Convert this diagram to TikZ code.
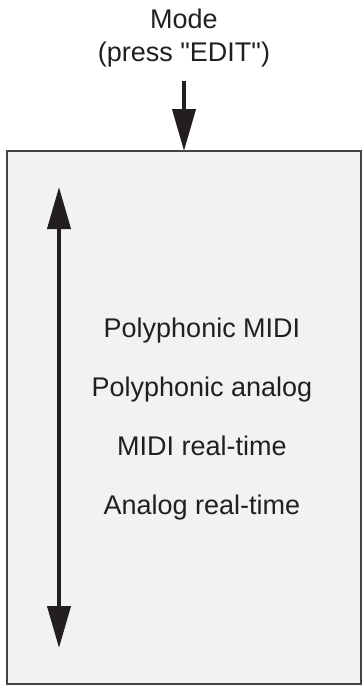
\documentclass[tikz,border=0pt]{standalone}
\usepackage{fontspec}
\setmainfont{Liberation Sans}
\usepackage{tikz}
\usetikzlibrary{arrows.meta,positioning}
\definecolor{inkdark}{HTML}{231F20}
\definecolor{panelgray}{HTML}{F1F2F4}
\tikzset{
  modetext/.style={font=\fontsize{27}{32}\selectfont,text=inkdark,inner sep=0pt,anchor=base},
  modebox/.style={draw=inkdark!85,fill=panelgray,line width=1.8pt,minimum width=354pt,minimum height=533pt,inner sep=0pt,outer sep=0pt},
  bigtip/.tip={Triangle[length=42pt,width=23pt]},
  bigarrow/.style={draw=inkdark,line width=4pt,-bigtip}
}
\begin{document}
\begin{tikzpicture}[x=1pt,y=-1pt,line join=miter]
\path[use as bounding box] (0,0) rectangle (362,686);
% input
\node[modetext] (mode) at (184,28) {Mode};
\node[modetext] (press) at (184,61) {(press \textquotedbl EDIT\textquotedbl)};
\coordinate (feed) at (184,81);
% panel
\node[modebox] (panel) at (184,417.5) {};
\draw[bigarrow] (feed) -- (panel.north);
% scroll arrow
\coordinate (scrolltop) at (59,187);
\coordinate (scrollbot) at (59,648);
\draw[bigarrow,bigtip-bigtip] (scrolltop) -- (scrollbot);
% list of modes
\node[modetext] (polymidi) at (202,337) {Polyphonic MIDI};
\node[modetext] (polyanalog) at (202,396) {Polyphonic analog};
\node[modetext] (midirt) at (202,455) {MIDI real-time};
\node[modetext] (analogrt) at (202,514) {Analog real-time};
\end{tikzpicture}
\end{document}
